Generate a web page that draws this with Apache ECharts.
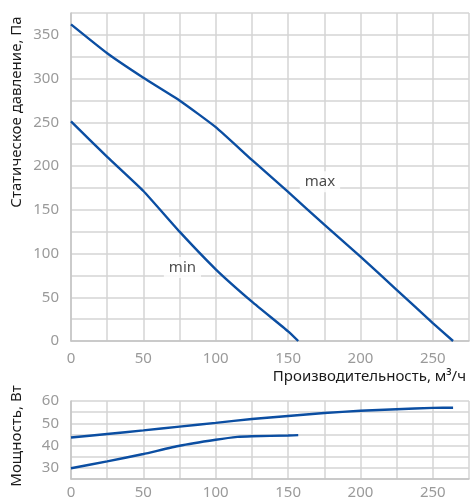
<!DOCTYPE html>
<html><head><meta charset="utf-8">
<script src="https://cdn.jsdelivr.net/npm/echarts@6/dist/echarts.min.js"></script>
<style>html,body{margin:0;padding:0;background:#fff}#c{width:472px;height:500px}</style>
</head><body><div id="c"></div>
<script>
// Pressure curves (flow m³/h -> static pressure Pa)
const maxFlow = [0, 25, 50, 75, 100, 125, 150, 175, 200, 225, 250, 264];
const maxPressure = [362, 329, 301, 275, 244.5, 207, 170.5, 133, 96.5, 58.5, 20.5, 0];
const minFlow = [0, 25, 50, 75, 100, 125, 150, 157];
const minPressure = [251, 210.5, 171.5, 125, 82, 45, 11, 0];
// Power curves (flow m³/h -> power W)
const maxPowerFlow = [0, 25, 50, 75, 100, 125, 150, 175, 200, 225, 250, 264];
const maxPower = [43.6, 45.2, 46.8, 48.5, 50.2, 51.9, 53.3, 54.6, 55.6, 56.3, 56.9, 57.0];
const minPowerFlow = [0, 25, 50, 75, 100, 115, 125, 150, 157];
const minPower = [29.8, 32.9, 36.2, 39.9, 42.6, 43.9, 44.2, 44.5, 44.7];
// Curve name labels, anchored in data units
const curveLabels = ['max', 'min'];
const labelFlow = [172, 77];
const labelPressure = [182, 84];
// Axis texts
const xTitle = 'Производительность, м³/ч';
const yTitleTop = 'Статическое давление, Па';
const yTitleBottom = 'Мощность, Вт';

const pairs = (xs, ys) => xs.map((x, i) => [x, ys[i]]);
const LINE = '#0b4ea2';
const GRID = '#d4d4d4';
const TICK = '#9a9a9a';
const FONT = 'Noto Sans';

function xAx(gi, margin) {
  return {
    gridIndex: gi, type: 'value', min: 0, max: 275, interval: 25,
    axisLine: { show: true, onZero: false, lineStyle: { color: '#c4c4c4', width: 1.5 } },
    axisTick: { show: false },
    splitLine: { show: true, lineStyle: { color: GRID, width: 1.5 } },
    axisLabel: { formatter: v => (v % 50 === 0 ? String(v) : ''), color: TICK, fontSize: 15, fontFamily: FONT, margin: margin }
  };
}
function yAx(gi, min, max, step, labelStep) {
  return {
    gridIndex: gi, type: 'value', min: min, max: max, interval: step,
    axisLine: { show: true, onZero: false, lineStyle: { color: '#c4c4c4', width: 1.5 } },
    axisTick: { show: false },
    splitLine: { show: true, lineStyle: { color: GRID, width: 1.5 } },
    axisLabel: { formatter: v => (v % labelStep === 0 ? String(v) : ''), color: TICK, fontSize: 15, fontFamily: FONT, margin: 12 }
  };
}
function curve(xi, data) {
  return {
    type: 'line', xAxisIndex: xi, yAxisIndex: xi, data: data,
    smooth: 0.15, showSymbol: false, symbol: 'none', silent: true,
    lineStyle: { color: LINE, width: 2.4 }, z: 3
  };
}

const chart = echarts.init(document.getElementById('c'), null, { renderer: 'canvas' });
chart.setOption({
  animation: false,
  backgroundColor: '#fff',
  grid: [
    { left: 71, right: 1, top: 13, height: 328 },
    { left: 71, right: 1, top: 401, height: 83 }
  ],
  xAxis: [xAx(0, 10), xAx(1, 6)],
  yAxis: [yAx(0, 0, 375, 25, 50), yAx(1, 25, 60, 5, 10)],
  series: [
    curve(0, pairs(maxFlow, maxPressure)),
    curve(0, pairs(minFlow, minPressure)),
    curve(1, pairs(maxPowerFlow, maxPower)),
    curve(1, pairs(minPowerFlow, minPower)),
    {
      type: 'scatter', xAxisIndex: 0, yAxisIndex: 0, silent: true, symbolSize: 1,
      itemStyle: { color: 'rgba(0,0,0,0)' }, z: 5,
      data: curveLabels.map((n, i) => [labelFlow[i], labelPressure[i], n]),
      label: {
        show: true, position: 'inside', formatter: p => p.value[2],
        backgroundColor: '#fff', padding: [3, 5], color: '#1a1a1a', fontSize: 15, fontFamily: FONT
      }
    }
  ],
  graphic: [
    { type: 'text', x: 466, y: 377, style: { text: xTitle, font: '15px "Noto Sans"', fill: '#1a1a1a', textAlign: 'right', textVerticalAlign: 'middle' } },
    { type: 'text', x: 17, y: 112, rotation: Math.PI / 2, style: { text: yTitleTop, font: '15px "Noto Sans"', fill: '#1a1a1a', textAlign: 'center', textVerticalAlign: 'middle' } },
    { type: 'text', x: 17, y: 436, rotation: Math.PI / 2, style: { text: yTitleBottom, font: '15px "Noto Sans"', fill: '#1a1a1a', textAlign: 'center', textVerticalAlign: 'middle' } }
  ]
});
</script></body></html>
